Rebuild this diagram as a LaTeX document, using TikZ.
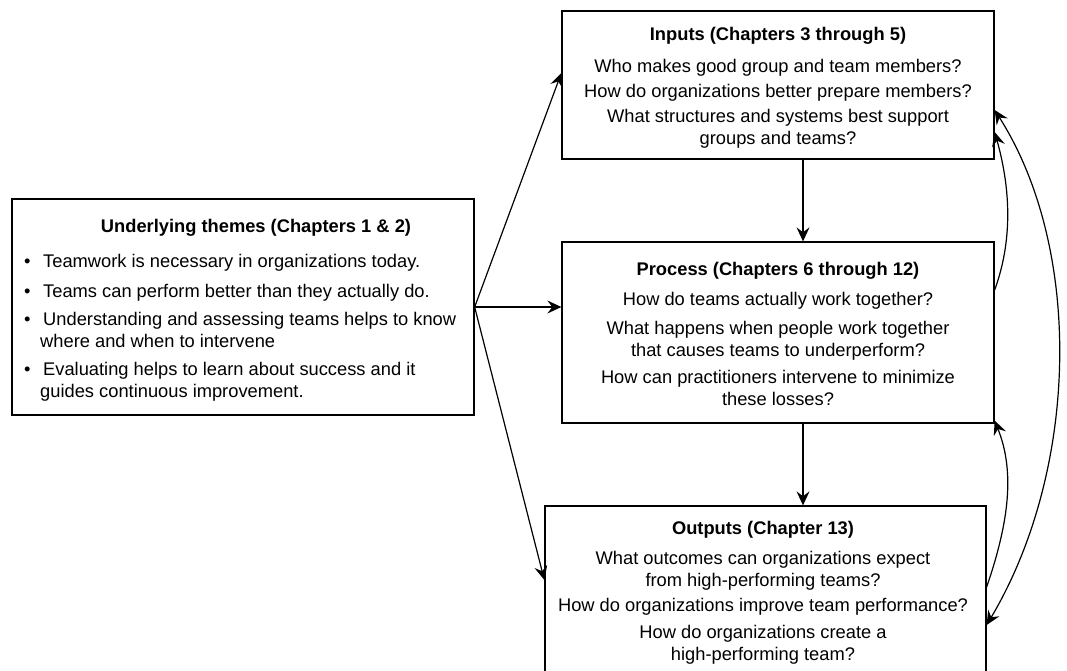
\documentclass[tikz,border=0pt]{standalone}
\usepackage{fontspec}
\setmainfont{Liberation Sans}
\usepackage{tikz}
\usetikzlibrary{arrows.meta,
                calc,
                positioning}
\newcommand{\bul}{\makebox[19pt][l]{\textbullet}}

\begin{document}
\begin{tikzpicture}[x=1pt, y=-1pt,
  box/.style={draw, line width=1.3pt, inner sep=0pt},
  txt/.style={anchor=north, inner sep=0pt, align=center,
              font=\fontsize{18.3}{22}\selectfont},
  arr/.style={-{Stealth[length=14pt, width=13pt, inset=5pt]}, line width=1.2pt},
  both/.style={{Stealth[length=14pt, width=13pt, inset=5pt]}-{Stealth[length=14pt, width=13pt, inset=5pt]}, line width=1.2pt}]
\useasboundingbox (0,0) rectangle (1067,670);

% boxes
\node[box, minimum width=462pt, minimum height=216pt] (themes) at (243,307) {};
\node[box, minimum width=432pt, minimum height=148pt] (inputs) at (778,85) {};
\node[box, minimum width=432pt, minimum height=181pt] (process) at (778,332.5) {};
\node[box, minimum width=441pt, minimum height=200pt] (outputs) at (765.5,606) {};

% texts
\node[txt] (themestitle) at (256,219) {\textbf{Underlying themes (Chapters 1 \& 2)}};
\node[txt, anchor=north west, align=left] (themeslist) at (24,254) {\bul Teamwork is necessary in organizations today.\\[8pt]
\bul Teams can perform better than they actually do.\\[6pt]
\bul Understanding and assessing teams helps to know\\
\hspace*{16pt}where and when to intervene\\[6pt]
\bul Evaluating helps to learn about success and it\\
\hspace*{16pt}guides continuous improvement.};

\node[txt] (inputstext) at (778,27) {\textbf{Inputs (Chapters 3 through 5)}\\[10pt]
Who makes good group and team members?\\[3pt]
How do organizations better prepare members?\\[3pt]
What structures and systems best support\\
groups and teams?};

\node[txt] (processtext) at (778,262) {\textbf{Process (Chapters 6 through 12)}\\[8pt]
How do teams actually work together?\\[7pt]
What happens when people work together\\
that causes teams to underperform?\\[5pt]
How can practitioners intervene to minimize\\
these losses?};

\node[txt] (outputstext) at (763,521) {\textbf{Outputs (Chapter 13)}\\[8pt]
What outcomes can organizations expect\\
from high-performing teams?\\[3pt]
How do organizations improve team performance?\\[5pt]
How do organizations create a\\
high-performing team?};

% arrows
\draw[arr] (themes.east) -- ([yshift=12pt]inputs.west);
\draw[arr] (themes.east) -- (process.west |- themes.east);
\draw[arr] (themes.east) -- ([yshift=26pt]outputs.west);
\draw[arr] ([xshift=25pt]inputs.south) -- ([xshift=25pt]process.north);
\draw[arr] ([xshift=25pt]process.south) -- ([xshift=25pt]process.south |- outputs.north);

% feedback
\draw[arr] ([yshift=42.5pt]process.east) .. controls +(20,-55) and +(14,50) .. ([yshift=-47pt]inputs.east);
\draw[arr] ([yshift=19pt]outputs.east) .. controls +(23,-67) and +(20,50) .. ([yshift=3pt]process.south east);
\draw[both] ([yshift=-25pt]inputs.east) .. controls +(89,140) and +(92,-155) .. ([yshift=-19pt]outputs.east);

\end{tikzpicture}
\end{document}
